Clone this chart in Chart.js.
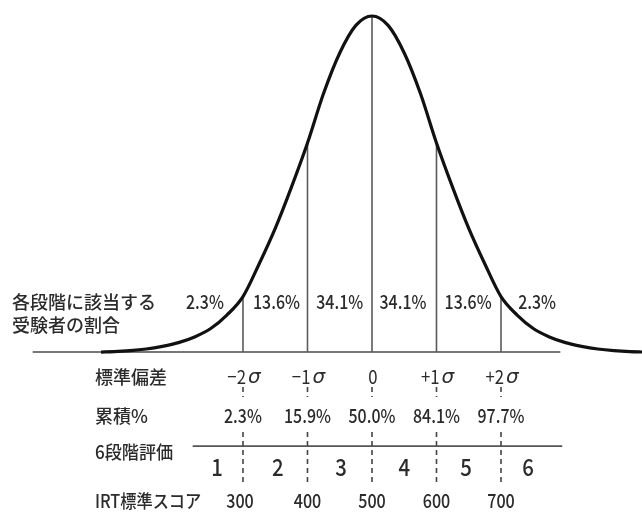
<!DOCTYPE html>
<html>
<head>
<meta charset="utf-8">
<script src="https://cdn.jsdelivr.net/npm/chart.js@4/dist/chart.umd.min.js"></script>
<style>
  html,body{margin:0;padding:0;background:#fff;}
  #wrap{width:642px;height:512px;position:relative;}
</style>
</head>
<body>
<div id="wrap"><canvas id="c" width="642" height="512"></canvas></div>
<script>
// ---- data ----
// curve: horizontal position in σ units, height relative to the peak
const curveX = [-4.2, -4.0, -3.75, -3.5, -3.25, -3.0, -2.75, -2.5, -2.25, -2.0, -1.75, -1.5, -1.25, -1.0, -0.75, -0.5, -0.25, 0,
                0.25, 0.5, 0.75, 1.0, 1.25, 1.5, 1.75, 2.0, 2.25, 2.5, 2.75, 3.0, 3.25, 3.5, 3.75, 4.0, 4.2];
const curveY = [0.0, 0.001, 0.004, 0.009, 0.017, 0.028, 0.045, 0.07, 0.11, 0.165, 0.262, 0.368, 0.49, 0.622, 0.77, 0.89, 0.972, 1.0,
                0.972, 0.89, 0.77, 0.622, 0.49, 0.368, 0.262, 0.165, 0.11, 0.07, 0.045, 0.028, 0.017, 0.009, 0.004, 0.001, 0.0];
const sigmaPositions = [-2, -1, 0, 1, 2];
const sigmaHeights = [0.165, 0.622, 1.0, 0.622, 0.165];
const sigmaNums = ['−2', '−1', '0', '+1', '+2'];
const sigmaUnit = ['σ', 'σ', '', 'σ', 'σ'];
const bandShares = ['2.3%', '13.6%', '34.1%', '34.1%', '13.6%', '2.3%'];
const cumulative = ['2.3%', '15.9%', '50.0%', '84.1%', '97.7%'];
const grades = ['1', '2', '3', '4', '5', '6'];
const irtScores = ['300', '400', '500', '600', '700'];
const rowTitles = ['標準偏差', '累積%', '6段階評価', 'IRT標準スコア'];
const shareTitle = ['各段階に該当する', '受験者の割合'];

// ---- layout (σ-units / relative heights) ----
const bandCenters = [-2.59, -1.48, -0.50, 0.48, 1.49, 2.56];
const gradeCenters = [-2.40, -1.46, -0.48, 0.50, 1.46, 2.42];

const datasets = [];
datasets.push({
  label: 'curve',
  data: curveX.map((x, i) => ({x: x, y: curveY[i]})),
  borderColor: '#111', borderWidth: 3.2, pointRadius: 0,
  cubicInterpolationMode: 'monotone', showLine: true, fill: false
});
sigmaPositions.forEach((s, i) => {
  datasets.push({
    data: [{x: s, y: 0}, {x: s, y: sigmaHeights[i]}],
    borderColor: '#5a5a5a', borderWidth: 1.6, pointRadius: 0, showLine: true
  });
  datasets.push({
    data: [{x: s, y: -0.104}, {x: s, y: -0.134}],
    borderColor: '#444', borderWidth: 1.6, pointRadius: 0, showLine: true, borderDash: [5, 4]
  });
  datasets.push({
    data: [{x: s, y: -0.238}, {x: s, y: -0.399}],
    borderColor: '#444', borderWidth: 1.6, pointRadius: 0, showLine: true, borderDash: [5, 4]
  });
});
// baseline
datasets.push({
  data: [{x: -5.26, y: 0}, {x: 2.92, y: 0}],
  borderColor: '#777', borderWidth: 2, pointRadius: 0, showLine: true
});
// 6段階評価 line
datasets.push({
  data: [{x: -2.78, y: -0.28}, {x: 2.95, y: -0.28}],
  borderColor: '#555', borderWidth: 1.6, pointRadius: 0, showLine: true
});

const JP = '"Noto Sans CJK JP", "Noto Sans", sans-serif';
const INK = '#2b2b2b';
function drawText(ctx, s, x, y, font, align, sx) {
  ctx.save();
  ctx.font = font;
  ctx.fillStyle = INK;
  ctx.textBaseline = 'middle';
  ctx.translate(x, y);
  ctx.scale(sx || 1, 1);
  ctx.textAlign = align || 'center';
  ctx.fillText(s, 0, 0);
  ctx.restore();
}
function drawSigma(ctx, num, unit, cx, y) {
  ctx.save();
  ctx.fillStyle = INK;
  ctx.textBaseline = 'middle';
  ctx.textAlign = 'left';
  const f1 = '400 19px ' + JP, f2 = 'italic 400 20px "DejaVu Sans", sans-serif';
  const sx = 0.88;
  ctx.font = f1;
  const w1 = ctx.measureText(num).width * sx;
  ctx.font = f2;
  const w2 = unit ? ctx.measureText(unit).width + 2 : 0;
  const x0 = cx - (w1 + w2) / 2;
  ctx.save();
  ctx.translate(x0, y);
  ctx.scale(sx, 1);
  ctx.font = f1;
  ctx.fillText(num, 0, 0);
  ctx.restore();
  if (unit) {
    ctx.font = f2;
    ctx.fillText(unit, x0 + w1 + 2, y + 1);
  }
  ctx.restore();
}

const labelsPlugin = {
  id: 'labels',
  afterDatasetsDraw(chart) {
    const ctx = chart.ctx;
    const xs = chart.scales.x, ys = chart.scales.y;
    const X = v => xs.getPixelForValue(v);
    const Y = v => ys.getPixelForValue(v);
    const numFont = '500 19px ' + JP;
    const titleFont = '500 18px ' + JP;
    drawText(ctx, shareTitle[0], 12, Y(0.149), titleFont, 'left');
    drawText(ctx, shareTitle[1], 12, Y(0.080), titleFont, 'left');
    bandShares.forEach((t, i) => drawText(ctx, t, X(bandCenters[i]), Y(0.149), numFont, 'center', 0.84));
    drawText(ctx, rowTitles[0], 95, Y(-0.074), titleFont, 'left');
    drawText(ctx, rowTitles[1], 95, Y(-0.190), titleFont, 'left');
    drawText(ctx, rowTitles[2], 95, Y(-0.298), titleFont, 'left', 0.95);
    drawText(ctx, rowTitles[3], 95, Y(-0.443), titleFont, 'left', 0.9);
    sigmaNums.forEach((t, i) => drawSigma(ctx, t, sigmaUnit[i], X(sigmaPositions[i]) + 1, Y(-0.074)));
    cumulative.forEach((t, i) => drawText(ctx, t, X(sigmaPositions[i]), Y(-0.190), numFont, 'center', 0.84));
    grades.forEach((t, i) => drawText(ctx, t, X(gradeCenters[i]), Y(-0.342), '500 24px ' + JP, 'center', 0.85));
    irtScores.forEach((t, i) => drawText(ctx, t, X(sigmaPositions[i]) - (i === 0 ? 3 : 0), Y(-0.443), numFont, 'center', 0.85));
  }
};

new Chart(document.getElementById('c'), {
  type: 'scatter',
  data: {datasets: datasets},
  options: {
    responsive: false,
    animation: false,
    layout: {padding: 0},
    plugins: {legend: {display: false}, tooltip: {enabled: false}},
    scales: {
      x: {type: 'linear', display: false, min: -5.767, max: 4.186},
      y: {type: 'linear', display: false, min: -0.476, max: 1.0476}
    }
  },
  plugins: [labelsPlugin]
});
</script>
</body>
</html>
